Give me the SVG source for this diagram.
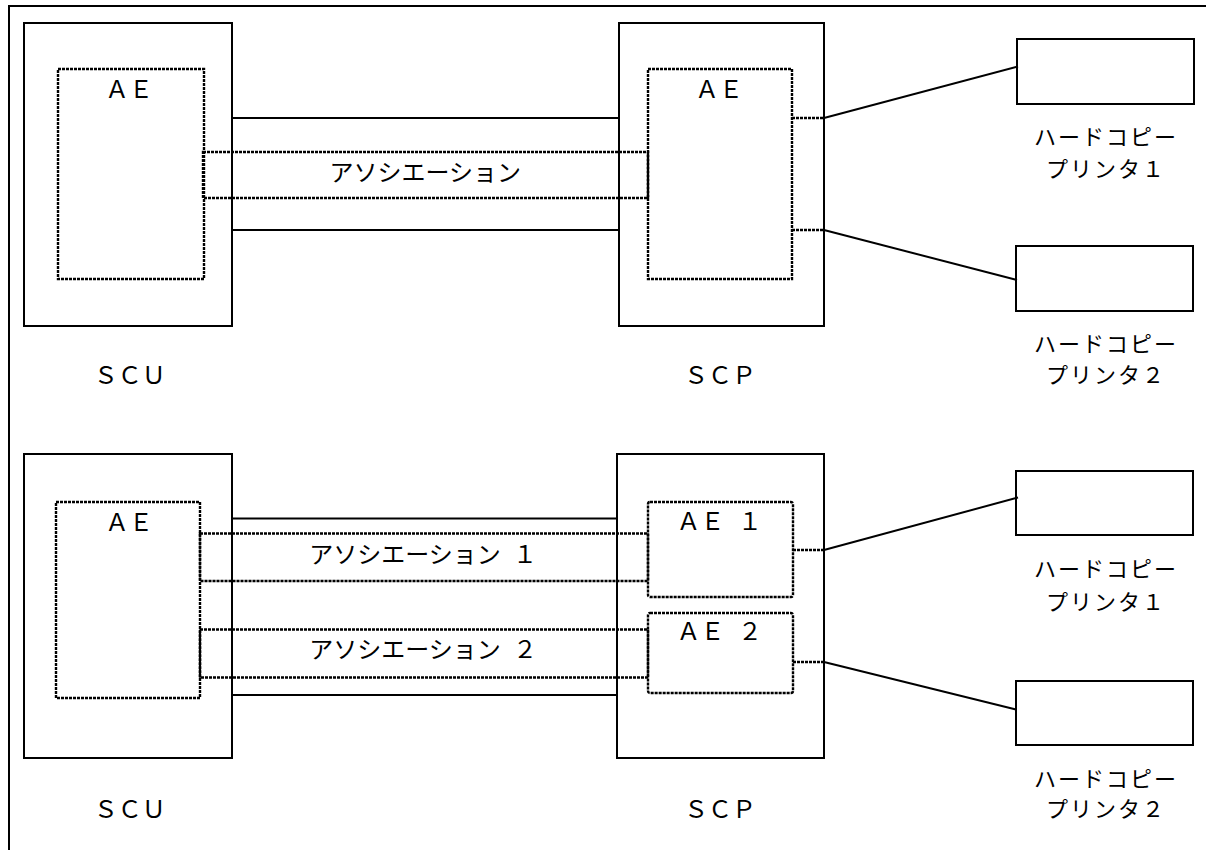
<svg xmlns="http://www.w3.org/2000/svg" width="1206" height="850" viewBox="0 0 1206 850">
<style>
.box{fill:#fff;stroke:#000;stroke-width:2}
.dot{fill:none;stroke:#000;stroke-width:2.4;stroke-dasharray:3 1}
.ln{fill:none;stroke:#000;stroke-width:2}
text{font-family:"Noto Sans CJK JP","Noto Sans",sans-serif;font-size:24px;fill:#000}
.m{text-anchor:middle}
.lbl{font-size:22px;letter-spacing:2px}
</style>
<rect x="0" y="0" width="1206" height="850" fill="#fff"/>
<rect x="9" y="6" width="1210" height="860" class="ln"/>

<!-- Top section -->
<g id="scu1">
<rect class="box" x="24" y="23" width="208" height="303"/>
<text class="m" x="129.7" y="384">ＳＣＵ</text>
</g>
<g id="scu1-ae">
<rect class="dot" x="58" y="69" width="146" height="210"/>
<text class="m" x="129" y="98">ＡＥ</text>
</g>
<g id="scp1">
<rect class="box" x="619" y="23" width="205" height="303"/>
<text class="m" x="720" y="384">ＳＣＰ</text>
</g>
<g id="scp1-ae">
<rect class="dot" x="648" y="69" width="144" height="210"/>
<text class="m" x="719" y="98">ＡＥ</text>
</g>
<g id="printer1a">
<rect class="box" x="1017" y="39" width="177" height="65"/>
<text class="m lbl" x="1106" y="145">ハードコピー</text>
<text class="m lbl" x="1106" y="177">プリンタ１</text>
</g>
<g id="printer2a">
<rect class="box" x="1016" y="246" width="177" height="65"/>
<text class="m lbl" x="1106" y="352">ハードコピー</text>
<text class="m lbl" x="1106" y="383">プリンタ２</text>
</g>

<!-- Bottom section -->
<g id="scu2">
<rect class="box" x="24" y="454" width="208" height="304"/>
<text class="m" x="129.7" y="818">ＳＣＵ</text>
</g>
<g id="scu2-ae">
<rect class="dot" x="56" y="502" width="144" height="196"/>
<text class="m" x="129" y="530.5">ＡＥ</text>
</g>
<g id="scp2">
<rect class="box" x="617" y="454" width="207" height="304"/>
<text class="m" x="720" y="818">ＳＣＰ</text>
</g>
<g id="scp2-ae1">
<rect class="dot" x="648" y="502" width="145" height="95" rx="2"/>
<text x="676.5" y="529.5">ＡＥ <tspan x="738">１</tspan></text>
</g>
<g id="scp2-ae2">
<rect class="dot" x="648" y="613" width="145" height="80" rx="2"/>
<text x="676.5" y="640">ＡＥ <tspan x="738">２</tspan></text>
</g>
<g id="printer1b">
<rect class="box" x="1016" y="471" width="177" height="64"/>
<text class="m lbl" x="1106" y="577">ハードコピー</text>
<text class="m lbl" x="1106" y="610">プリンタ１</text>
</g>
<g id="printer2b">
<rect class="box" x="1016" y="681" width="177" height="64"/>
<text class="m lbl" x="1106" y="787">ハードコピー</text>
<text class="m lbl" x="1106" y="816.5">プリンタ２</text>
</g>

<g id="connectors">
<!-- top -->
<line class="ln" x1="232" y1="118" x2="619" y2="118"/>
<line class="ln" x1="232" y1="230" x2="619" y2="230"/>
<rect class="dot" x="203" y="152" width="445" height="46"/>
<line class="ln" x1="648" y1="152" x2="648" y2="198"/>
<line class="dot" x1="792" y1="118" x2="824" y2="118"/>
<line class="dot" x1="792" y1="230" x2="824" y2="230"/>
<line class="ln" x1="824" y1="118" x2="1018" y2="66.5"/>
<line class="ln" x1="824" y1="230" x2="1017" y2="280"/>
<!-- bottom -->
<line class="ln" x1="232" y1="518.5" x2="617" y2="518.5"/>
<line class="ln" x1="232" y1="695" x2="617" y2="695"/>
<rect class="dot" x="200" y="533.5" width="448" height="47.5"/>
<rect class="dot" x="200" y="629.5" width="448" height="48"/>
<line class="ln" x1="200" y1="629.5" x2="200" y2="677.5"/>
<line class="dot" x1="793" y1="550" x2="824" y2="550"/>
<line class="dot" x1="793" y1="662" x2="824" y2="662"/>
<line class="ln" x1="824" y1="550" x2="1018" y2="497.5"/>
<line class="ln" x1="824" y1="662" x2="1016" y2="709.5"/>
</g>

<text class="m" x="425.3" y="180.5">アソシエーション</text>
<text x="309.3" y="563">アソシエーション <tspan x="513">１</tspan></text>
<text x="309.3" y="658">アソシエーション <tspan x="513">２</tspan></text>
</svg>
